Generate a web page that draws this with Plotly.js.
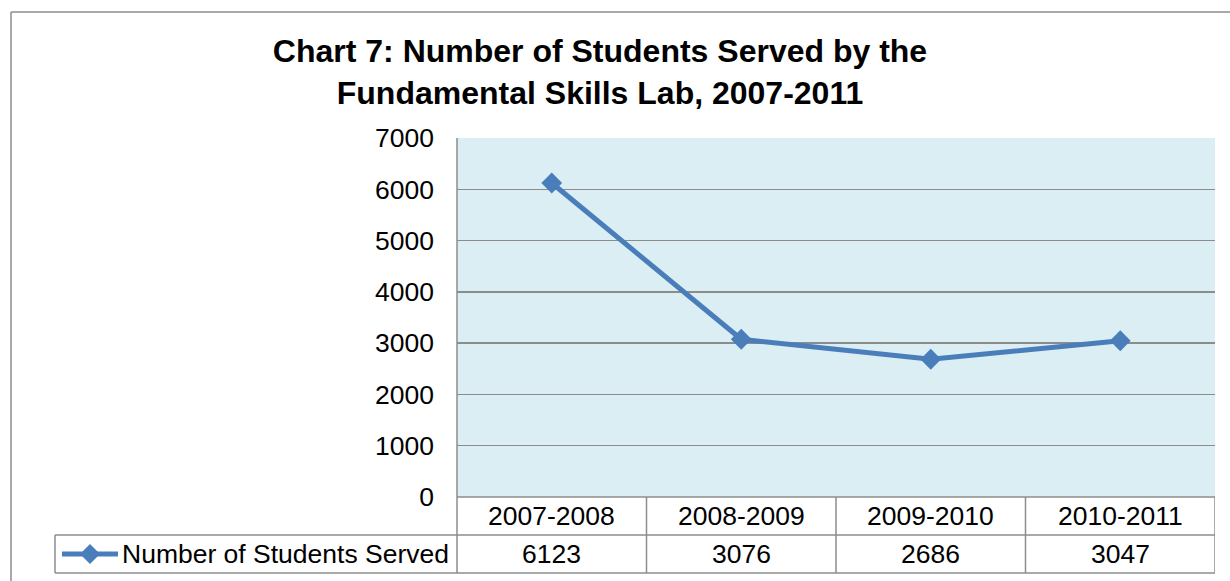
<!DOCTYPE html>
<html>
<head>
<meta charset="utf-8">
<script src="https://cdn.plot.ly/plotly-3.0.1.min.js"></script>
<style>html,body{margin:0;padding:0;background:#fff;}#chart{width:1230px;height:581px;}</style>
</head>
<body>
<div id="chart"></div>
<script>
// ---- data ----
const categories = ["2007-2008", "2008-2009", "2009-2010", "2010-2011"];
const students = [6123, 3076, 2686, 3047];
const seriesName = "Number of Students Served";
const chartTitle = "Chart 7: Number of Students Served by the<br>Fundamental Skills Lab, 2007-2011";
const yTicks = [0, 1000, 2000, 3000, 4000, 5000, 6000, 7000];

// ---- layout geometry (pixels) ----
const W = 1230, H = 581;
const L = 457, R = 1215, T = 138, B = 497;
const row1 = 535, row2 = 573, legLeft = 55;
const px = p => (p - L) / (R - L);        // pixel x -> paper
const py = p => (B - p) / (B - T);        // pixel y -> paper
const lineColor = "#4A7EBB";
const gridColor = "#8C8C8C";
const fontFam = "Liberation Sans, Arial, sans-serif";
const txtSize = 26.5;

const trace = {
  x: categories, y: students, type: "scatter", mode: "lines+markers",
  name: seriesName,
  line: {color: lineColor, width: 5},
  marker: {symbol: "diamond", size: 16, color: lineColor},
  showlegend: false, cliponaxis: false
};

const shapes = [];
const annotations = [];
const gline = (x0, y0, x1, y1, xref) => shapes.push({type: "line", xref: xref || "paper", yref: "paper",
  x0: x0, y0: y0, x1: x1, y1: y1, line: {color: gridColor, width: 1.5}, layer: "above"});

// outer chart border
shapes.push({type: "line", xref: "paper", yref: "paper", x0: px(11), y0: py(12), x1: px(11), y1: py(H + 5), line: {color: "#8C8C8C", width: 1.5}});
shapes.push({type: "line", xref: "paper", yref: "paper", x0: px(11), y0: py(12), x1: px(W + 5), y1: py(12), line: {color: "#8C8C8C", width: 1.5}});

// data table grid
gline(0, py(B), 1, py(B));
gline(px(legLeft), py(row1), 1, py(row1));
gline(px(legLeft), py(row2), 1, py(row2));
gline(px(legLeft), py(row1), px(legLeft), py(row2));
gline(0, 1, 0, py(row2));
categories.forEach((c, i) => {
  gline(i + 0.5, py(B), i + 0.5, py(row2), "x");
  annotations.push({x: c, xref: "x", y: py((B + row1) / 2), yref: "paper", text: c, showarrow: false,
    xanchor: "center", yanchor: "middle", font: {family: fontFam, size: txtSize, color: "#000"}});
  annotations.push({x: c, xref: "x", y: py((row1 + row2) / 2), yref: "paper", text: String(students[i]), showarrow: false,
    xanchor: "center", yanchor: "middle", font: {family: fontFam, size: txtSize, color: "#000"}});
});

// legend key in the table
const ly = py((row1 + row2) / 2);
shapes.push({type: "line", xref: "paper", yref: "paper", x0: px(62), x1: px(118), y0: ly, y1: ly, line: {color: lineColor, width: 5}});
const d = 10;
const cy = (row1 + row2) / 2, cx = 90;
shapes.push({type: "path", xref: "paper", yref: "paper",
  path: `M ${px(cx - d)} ${py(cy)} L ${px(cx)} ${py(cy - d)} L ${px(cx + d)} ${py(cy)} L ${px(cx)} ${py(cy + d)} Z`,
  fillcolor: lineColor, line: {color: lineColor, width: 0}});
annotations.push({x: px(120), xref: "paper", y: ly, yref: "paper", text: seriesName, showarrow: false,
  xanchor: "left", yanchor: "middle", font: {family: fontFam, size: txtSize, color: "#000"}});

const layout = {
  width: W, height: H,
  margin: {l: L, r: W - R, t: T, b: H - B, pad: 0},
  paper_bgcolor: "#ffffff", plot_bgcolor: "#DBEEF4",
  title: {text: chartTitle, x: 600 / W, xanchor: "center", y: 1 - 62 / H, yanchor: "top",
    font: {family: fontFam, size: 32, color: "#000", weight: "bold"}},
  xaxis: {type: "category", range: [-0.5, 3.5], showticklabels: false, showgrid: false,
    zeroline: false, showline: false, ticks: "", fixedrange: true},
  yaxis: {range: [0, 7000], tickvals: yTicks, ticktext: yTicks.map(String), showgrid: true,
    gridcolor: gridColor, gridwidth: 1.5, zeroline: false, showline: false, ticks: "",
    ticklabelstandoff: 22, tickfont: {family: fontFam, size: txtSize, color: "#000"}, fixedrange: true},
  shapes: shapes, annotations: annotations, showlegend: false
};

Plotly.newPlot("chart", [trace], layout, {displayModeBar: false, staticPlot: true});
</script>
</body>
</html>
